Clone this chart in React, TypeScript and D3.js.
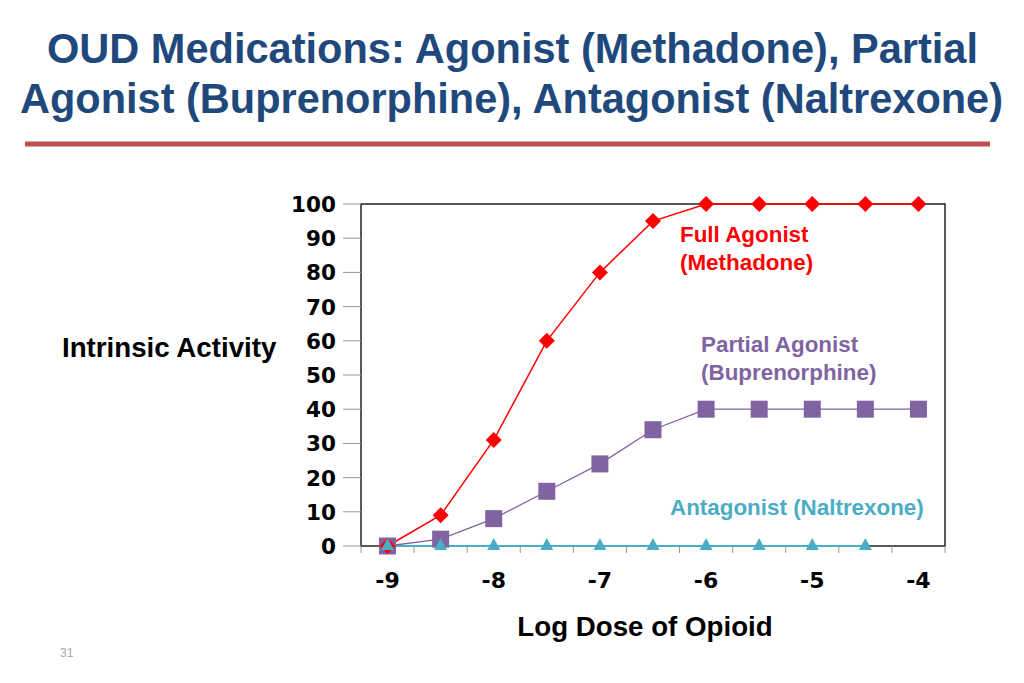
import React from "react";
import * as d3 from "d3";

const doses = [-9, -8.5, -8, -7.5, -7, -6.5, -6, -5.5, -5, -4.5, -4];
const fullAgonist = [0, 9, 31, 60, 80, 95, 100, 100, 100, 100, 100];
const partialAgonist = [0, 2, 8, 16, 24, 34, 40, 40, 40, 40, 40];
const antagonist = [0, 0, 0, 0, 0, 0, 0, 0, 0, 0];
const yTicks = [0, 10, 20, 30, 40, 50, 60, 70, 80, 90, 100];
const xTickLabels = [-9, -8, -7, -6, -5, -4];

const W = 1024, H = 683;
const L = 361, R = 945, T = 204, B = 546;

export default function App() {
  const x = d3.scaleBand<number>().domain(doses).range([L, R]).padding(0);
  const cx = (d: number) => (x(d) as number) + x.bandwidth() / 2;
  const y = d3.scaleLinear().domain([0, 100]).range([B, T]);

  const mk = (vals: number[], curve: d3.CurveFactory) =>
    d3.line<number>().x((_, i) => cx(doses[i])).y((v) => y(v)).curve(curve)(vals) || "";

  const sans = "'Liberation Sans', Arial, sans-serif";
  const verd = "'DejaVu Sans', Verdana, sans-serif";
  const bounds = d3.range(doses.length + 1).map((i) => L + i * x.bandwidth());

  return (
    <svg width={W} height={H} style={{ position: "absolute", left: 0, top: 0, background: "#fff" }}>
      <rect x={0} y={0} width={W} height={H} fill="#fff" />
      <g fontFamily="'Liberation Sans Narrow', 'Arial Narrow', 'Liberation Sans', sans-serif" fontWeight="bold" fill="#1F497D" fontSize={42} textAnchor="middle">
        <text x={512.5} y={63} textLength={931} lengthAdjust="spacingAndGlyphs">OUD Medications: Agonist (Methadone), Partial</text>
        <text x={511.5} y={113} textLength={983} lengthAdjust="spacingAndGlyphs">Agonist (Buprenorphine), Antagonist (Naltrexone)</text>
      </g>
      <rect x={25} y={141.5} width={965} height={5} fill="#C0504D" />

      {/* plot frame */}
      <rect x={L} y={T} width={R - L} height={B - T} fill="none" stroke="#000" strokeWidth={1.3} />
      {/* y ticks */}
      {yTicks.map((t) => (
        <g key={t}>
          <line x1={L - 18} x2={L} y1={y(t)} y2={y(t)} stroke="#999" strokeWidth={1} />
          <text x={336} y={y(t) + 8} textAnchor="end" fontFamily={verd} fontWeight="bold" fontSize={21.5} fill="#000">{t}</text>
        </g>
      ))}
      {/* x ticks */}
      {bounds.map((b, i) => (
        <line key={i} x1={b} x2={b} y1={B} y2={B + 7} stroke="#999" strokeWidth={1} />
      ))}
      {xTickLabels.map((t) => (
        <text key={t} x={cx(t)} y={588} textAnchor="middle" fontFamily={verd} fontWeight="bold" fontSize={22} fill="#000">{t}</text>
      ))}

      {/* series lines */}
      <path d={mk(antagonist, d3.curveLinear)} fill="none" stroke="#4BACC6" strokeWidth={2} />
      <path d={mk(partialAgonist, d3.curveLinear)} fill="none" stroke="#8064A2" strokeWidth={1.3} />
      <path d={mk(fullAgonist, d3.curveLinear)} fill="none" stroke="#FF0000" strokeWidth={1.5} />

      {partialAgonist.map((v, i) => (
        <rect key={"p" + i} x={cx(doses[i]) - 8.5} y={y(v) - 8.5} width={17} height={17} fill="#8064A2" />
      ))}
      {fullAgonist.map((v, i) => (
        <path key={"f" + i} d={`M0,-8L8,0L0,8L-8,0Z`} transform={`translate(${cx(doses[i])},${y(v)})`} fill="#FF0000" />
      ))}
      {antagonist.map((v, i) => (
        <path key={"a" + i} d={`M0,-7L6.5,5L-6.5,5Z`} transform={`translate(${cx(doses[i])},${y(v) - 1})`} fill="#4BACC6" />
      ))}

      {/* series labels */}
      <g fontFamily={sans} fontWeight="bold" fontSize={22.4}>
        <text x={680} y={242} fill="#FF0000">Full Agonist</text>
        <text x={680} y={270} fill="#FF0000">(Methadone)</text>
        <text x={701} y={352} fill="#8064A2">Partial Agonist</text>
        <text x={701} y={380} fill="#8064A2">(Buprenorphine)</text>
        <text x={670} y={515} fill="#4BACC6">Antagonist (Naltrexone)</text>
      </g>

      <text x={62} y={357} fontFamily={sans} fontWeight="bold" fontSize={27.7} fill="#000">Intrinsic Activity</text>
      <text x={645} y={636} textAnchor="middle" fontFamily={sans} fontWeight="bold" fontSize={27.7} fill="#000">Log Dose of Opioid</text>
      <text x={60} y={657} fontFamily={sans} fontSize={12} fill="#aaa">31</text>
    </svg>
  );
}
